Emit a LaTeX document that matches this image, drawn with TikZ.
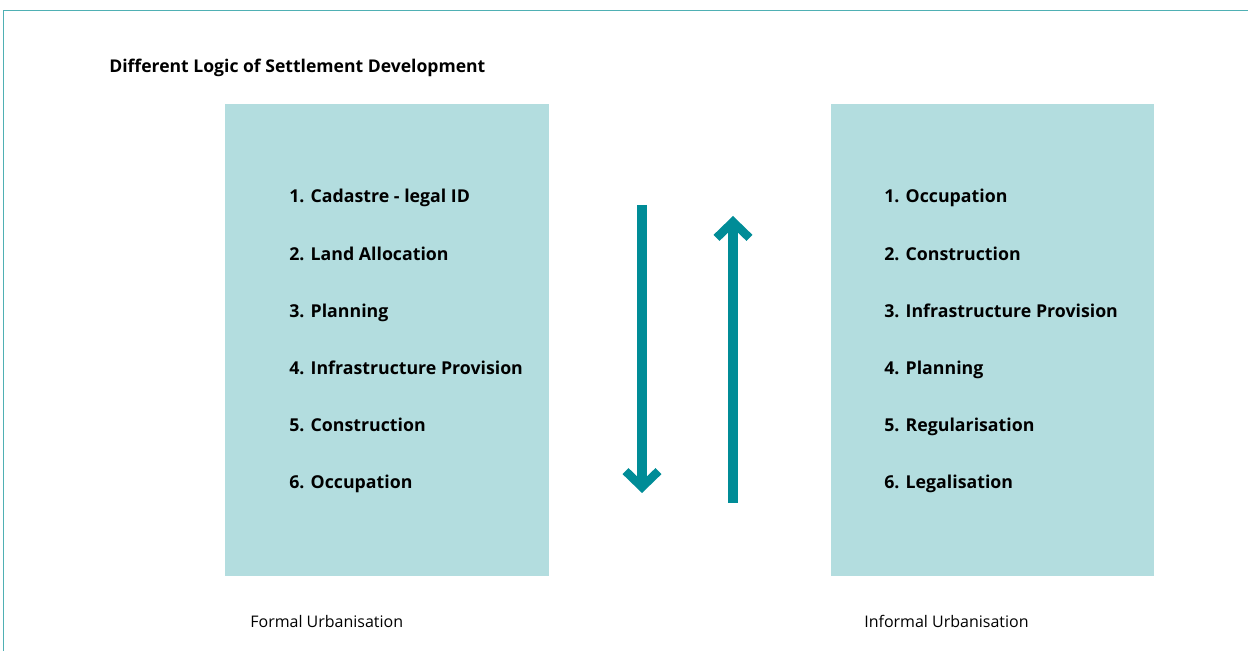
\documentclass[tikz,border=0pt]{standalone}
\usepackage{fontspec}
\setmainfont{Open Sans}
\usetikzlibrary{positioning}
\usetikzlibrary{arrows.meta}

\definecolor{boxfill}{HTML}{B3DDDF}
\definecolor{arrowteal}{HTML}{008C97}
\definecolor{frameteal}{HTML}{4FB0B4}

\begin{document}
\begin{tikzpicture}[x=0.02cm, y=-0.02cm,
    stepbox/.style={fill=boxfill, draw=none},
    stepitem/.style={anchor=base west, inner sep=0pt, font=\bfseries\fontsize{10.1}{12}\selectfont},
    caption/.style={anchor=base west, inner sep=0pt, font=\fontsize{9.1}{11}\selectfont},
    flow/.style={draw=arrowteal, line width=0.2cm, -{Straight Barb[length=0.32cm, width=0.66cm, line width=0.17cm]}}]
    \useasboundingbox (0,0) rectangle (1248,651);

    % frame
    \draw[frameteal, line width=1.1pt] (3.5,651) -- (3.5,10.5) -- (1248,10.5);

    \node[anchor=base west, inner sep=0pt, font=\bfseries\fontsize{10}{12}\selectfont] (title) at (109,73) {Different Logic of Settlement Development};

    % the two columns
    \fill[stepbox] (225,104) rectangle (549,576);
    \fill[stepbox] (831,104) rectangle (1154,576);

    \def\step{57.2}
    \foreach \txt [count=\i] in {Cadastre - legal ID, Land Allocation, Planning, Infrastructure Provision, Construction, Occupation} {
        \node[stepitem] (formal\i) at (289,{203+\step*(\i-1)}) {\i. \txt};
    }
    \foreach \txt [count=\i] in {Occupation, Construction, Infrastructure Provision, Planning, Regularisation, Legalisation} {
        \node[stepitem] (informal\i) at (884,{203+\step*(\i-1)}) {\i. \txt};
    }

    \node[caption] (formal) at (250,628) {Formal Urbanisation};
    \node[caption] (informal) at (864,628) {Informal Urbanisation};

    % direction of development
    \coordinate (downstart) at (642,205);
    \coordinate (downend) at (642,493);
    \coordinate (upstart) at (733,503);
    \coordinate (upend) at (733,216);
    \draw[flow] (downstart) -- (downend);
    \draw[flow] (upstart) -- (upend);
\end{tikzpicture}
\end{document}
